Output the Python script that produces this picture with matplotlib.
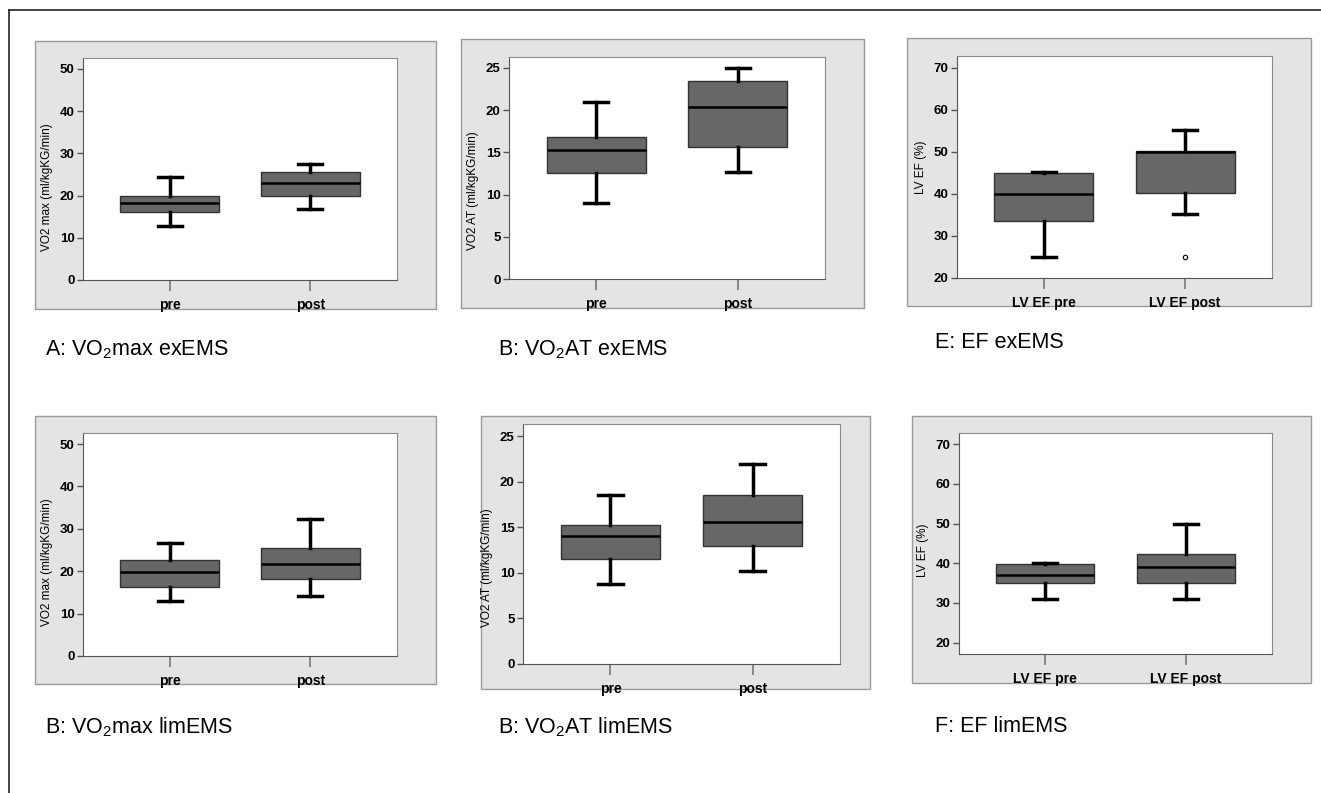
import matplotlib
matplotlib.use("Agg")
import matplotlib.pyplot as plt
import matplotlib.patches as patches
from matplotlib.lines import Line2D

plt.rcParams['font.family'] = ['Liberation Sans', 'DejaVu Sans']
plt.rcParams['mathtext.fontset'] = 'custom'
plt.rcParams['mathtext.rm'] = 'Liberation Sans'
plt.rcParams['mathtext.it'] = 'Liberation Sans:italic'

# Box stats: whisker low, q1, median, q3, whisker high
groups = ["pre", "post"]
ef_groups = ["LV EF pre", "LV EF post"]

vo2max_ex = [[12.7, 16.2, 18.2, 20.0, 24.5], [16.8, 20.0, 23.1, 25.6, 27.5]]
vo2at_ex = [[9.0, 12.5, 15.3, 16.8, 21.0], [12.7, 15.6, 20.4, 23.5, 25.0]]
ef_ex = [[25.0, 33.6, 40.0, 45.0, 45.1], [35.2, 40.3, 50.0, 50.2, 55.2]]
ef_ex_fliers = [[], [25.0]]

vo2max_lim = [[13.0, 16.2, 19.7, 22.6, 26.6], [14.1, 18.1, 21.7, 25.4, 32.3]]
vo2at_lim = [[8.8, 11.5, 14.0, 15.3, 18.5], [10.2, 13.0, 15.6, 18.5, 22.0]]
ef_lim = [[31.0, 35.0, 37.0, 39.9, 40.1], [31.0, 35.0, 39.0, 42.4, 49.9]]

vo2max_ticks = [0, 10, 20, 30, 40, 50]
vo2at_ticks = [0, 5, 10, 15, 20, 25]
ef_ticks = [20, 30, 40, 50, 60, 70]

W, H = 1321, 793
fig = plt.figure(figsize=(W / 100, H / 100), dpi=100)


def rect(x0, y0, x1, y1):
    # pixel box (top-left origin) -> figure fraction
    return [x0 / W, 1 - y1 / H, (x1 - x0) / W, (y1 - y0) / H]


def panel(gray_px, ax_px, stats, fliers, labels, ylim, yticks, ylabel, label_y):
    g = rect(*gray_px)
    bg = patches.Rectangle((g[0], g[1]), g[2], g[3], transform=fig.transFigure,
                           facecolor='#e4e4e4', edgecolor='#9a9a9a', lw=1.0)
    bg.set_zorder(-5)
    fig.add_artist(bg)
    ax = fig.add_axes(rect(*ax_px))
    bstats = []
    for s, f, lab in zip(stats, fliers, labels):
        bstats.append(dict(whislo=s[0], q1=s[1], med=s[2], q3=s[3], whishi=s[4], fliers=f, label=lab))
    ax.bxp(bstats, positions=[1, 2], widths=0.7, capwidths=0.17, patch_artist=True,
           boxprops=dict(facecolor='#676767', edgecolor='#333333', lw=1.0),
           medianprops=dict(color='black', lw=1.8),
           whiskerprops=dict(color='black', lw=2.5),
           capprops=dict(color='black', lw=2.5),
           flierprops=dict(marker='o', markersize=3.2, markerfacecolor='none',
                           markeredgecolor='black', markeredgewidth=0.8))
    ax.set_xlim(0.385, 2.615)
    ax.set_ylim(*ylim)
    ax.set_yticks(yticks)
    ax.set_xticks([1, 2])
    ax.set_xticklabels(labels, fontsize=10, fontweight='bold')
    ax.tick_params(axis='y', direction='out', length=4, width=1, color='#555555', pad=2,
                   labelsize=9.5)
    ax.tick_params(axis='x', direction='out', length=8, width=1.2, color='#777777', pad=5)
    for t in ax.get_yticklabels():
        t.set_fontweight('bold')
    for side in ['left', 'bottom']:
        ax.spines[side].set_color('#555555')
    for side in ['top', 'right']:
        ax.spines[side].set_color('#8a8a8a')
    ax.set_ylabel(ylabel, fontsize=8.5)
    ax.yaxis.set_label_coords(-30 / (ax_px[2] - ax_px[0]), label_y)
    return ax


panel((35, 41, 436, 309), (83, 58, 397, 280), vo2max_ex, [[], []], groups,
      (0, 52.6), vo2max_ticks, "VO2 max (ml/kgKG/min)", 0.42)
panel((461, 39, 864, 308), (509, 57, 825, 279), vo2at_ex, [[], []], groups,
      (0, 26.3), vo2at_ticks, "VO2 AT (ml/kgKG/min)", 0.4)
panel((907, 38, 1311, 306), (957, 56, 1272, 278), ef_ex, ef_ex_fliers, ef_groups,
      (20, 72.8), ef_ticks, "LV EF (%)", 0.5)
panel((35, 416, 436, 684), (83, 433, 397, 656), vo2max_lim, [[], []], groups,
      (0, 52.6), vo2max_ticks, "VO2 max (ml/kgKG/min)", 0.42)
panel((481, 416, 870, 689), (523, 424, 840, 664), vo2at_lim, [[], []], groups,
      (0, 26.35), vo2at_ticks, "VO2 AT (ml/kgKG/min)", 0.4)
panel((912, 416, 1311, 683), (959, 433, 1272, 654), ef_lim, [[], []], ef_groups,
      (17.14, 72.8), ef_ticks, "LV EF (%)", 0.47)

# captions
captions = [
    (45, 350, r"A: VO$_2$max exEMS"),
    (498, 350, r"B: VO$_2$AT exEMS"),
    (935, 343, "E: EF exEMS"),
    (45, 727, r"B: VO$_2$max limEMS"),
    (498, 727, r"B: VO$_2$AT limEMS"),
    (935, 727, "F: EF limEMS"),
]
for x, y, txt in captions:
    fig.text(x / W, 1 - y / H, txt, fontsize=15.5, ha='left', va='center')

# outer frame (top and left edges)
fig.add_artist(Line2D([9 / W, 9 / W], [0, 1 - 10 / H], transform=fig.transFigure,
                      color='#222222', lw=1.2))
fig.add_artist(Line2D([9 / W, 1], [1 - 10 / H, 1 - 10 / H], transform=fig.transFigure,
                      color='#222222', lw=1.2))

fig.savefig("out.png", dpi=100)
